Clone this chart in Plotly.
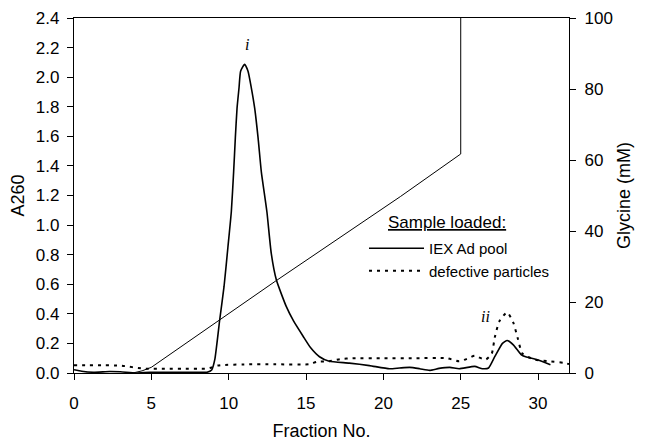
import plotly.graph_objects as go

# IEX Ad pool (solid) A260
iex_x = [0, 0.5, 1.25, 2.3, 3, 4.0, 4.9, 6, 7, 8, 8.6, 8.9, 9.1, 9.42, 9.7, 9.95, 10.17, 10.32, 10.43,
         10.54, 10.67, 10.77, 11.03, 11.25, 11.46, 11.68, 11.9, 12.11, 12.47, 12.75, 13.08, 13.72,
         14.2, 14.8, 15.3, 15.87, 16.5, 17.8, 19.1, 20.4, 21.05, 21.7, 22.35, 23.0, 23.6, 24.3,
         24.9, 25.9, 26.4, 26.8, 27.2, 27.7, 28.0, 28.4, 28.9, 29.2, 29.95, 30.8]
iex_y = [0.022, 0.012, 0.005, 0.01, 0.008, 0.0, 0.005, 0.005, 0.005, 0.005, 0.005, 0.02, 0.09, 0.36, 0.585,
         0.85, 1.09, 1.36, 1.59, 1.79, 1.93, 2.04, 2.087, 2.04, 1.93, 1.79, 1.59, 1.36, 1.09, 0.81,
         0.63, 0.45, 0.35, 0.25, 0.17, 0.11, 0.079, 0.067, 0.05, 0.029, 0.034, 0.038, 0.029, 0.018,
         0.031, 0.038, 0.029, 0.045, 0.029, 0.034, 0.11, 0.2, 0.22, 0.19, 0.125, 0.11, 0.09, 0.056]

# defective particles (dotted) A260
def_x = [0, 1, 2, 3, 4.5, 6, 7, 8, 8.6, 9.3, 9.6, 11, 13, 15.2, 15.7, 16.5, 17.2, 18, 20, 22, 24.1,
         24.9, 25.5, 25.9, 26.6, 27.0, 27.2, 27.5, 28.0, 28.4, 28.7, 29.0, 29.8, 30.6, 31.7, 32]
def_y = [0.052, 0.052, 0.052, 0.05, 0.03, 0.029, 0.029, 0.029, 0.029, 0.05, 0.054, 0.058, 0.059, 0.059,
         0.076, 0.079, 0.094, 0.1, 0.1, 0.1, 0.1, 0.079, 0.1, 0.116, 0.09, 0.13, 0.24, 0.35, 0.41,
         0.34, 0.23, 0.13, 0.09, 0.08, 0.068, 0.06]

# Glycine gradient (mM)
gly_x = [3.8, 4.4, 5.0, 13.0, 21.1, 25.0, 25.0]
gly_y = [0.0, 0.6, 1.6, 25.8, 49.7, 61.7, 100.0]

FONT = "Liberation Sans, Arial, sans-serif"
SERIF = "Liberation Serif, Times New Roman, serif"

# page body has an 8px margin; plot-area box in screen pixels
OFF = 8
W, H = 648 - OFF, 446 - OFF
PL, PR, PT, PB = 74, 569, 18, 373
def px_x(p):
    return (p - PL) / (PR - PL)
def px_y(p):
    return (PB - p) / (PB - PT)

fig = go.Figure()
fig.add_trace(go.Scatter(x=gly_x, y=gly_y, mode="lines", yaxis="y2", showlegend=False,
                         line=dict(color="black", width=1)))
fig.add_trace(go.Scatter(x=iex_x, y=iex_y, mode="lines", name="IEX Ad pool", legendgroup="a",
                         line=dict(color="black", width=1.6, shape="spline", smoothing=0.5)))
fig.add_trace(go.Scatter(x=def_x, y=def_y, mode="lines", name="defective particles", legendgroup="b",
                         line=dict(color="black", width=2, dash="3px,5px", shape="spline", smoothing=0.6)))

axis_common = dict(showline=True, linecolor="black", linewidth=1.2, ticks="outside", ticklen=6,
                   tickcolor="black", tickwidth=1.2, showgrid=False, zeroline=False, automargin=False,
                   tickfont=dict(size=17))

fig.update_layout(
    width=W, height=H,
    margin=dict(l=PL - OFF, r=W - (PR - OFF), t=PT - OFF, b=H - (PB - OFF)),
    plot_bgcolor="white", paper_bgcolor="white",
    font=dict(family=FONT, size=17, color="black"),
    xaxis=dict(range=[0, 32], tickvals=[0, 5, 10, 15, 20, 25, 30], mirror=True, ticklabelstandoff=8,
               title=dict(text="Fraction No.", font=dict(size=18), standoff=12), **axis_common),
    yaxis=dict(range=[0, 2.4], tickvals=[round(0.2 * i, 1) for i in range(13)], tickformat=".1f",
               ticklabelstandoff=4,
               title=dict(text="A260", font=dict(size=18), standoff=11), **axis_common),
    yaxis2=dict(range=[0, 100], tickvals=[0, 20, 40, 60, 80, 100], overlaying="y", side="right",
                ticklabelstandoff=5,
                title=dict(text="Glycine (mM)", font=dict(size=18), standoff=5), **axis_common),
    legend=dict(x=px_x(364), y=px_y(232), xanchor="left", yanchor="top", bgcolor="rgba(0,0,0,0)",
                font=dict(size=15), itemwidth=55, traceorder="grouped", tracegroupgap=0),
    showlegend=True,
    annotations=[
        dict(text="<u>Sample loaded:</u>", x=px_x(386), y=px_y(222.7), xref="paper", yref="paper",
             showarrow=False, font=dict(size=17), xanchor="left", yanchor="middle"),
        dict(text="<i>i</i>", x=11.2, y=2.22, xref="x", yref="y", showarrow=False,
             font=dict(family=SERIF, size=16)),
        dict(text="<i>ii</i>", x=26.6, y=0.38, xref="x", yref="y", showarrow=False,
             font=dict(family=SERIF, size=16)),
    ],
)

fig.write_html("out.html")
